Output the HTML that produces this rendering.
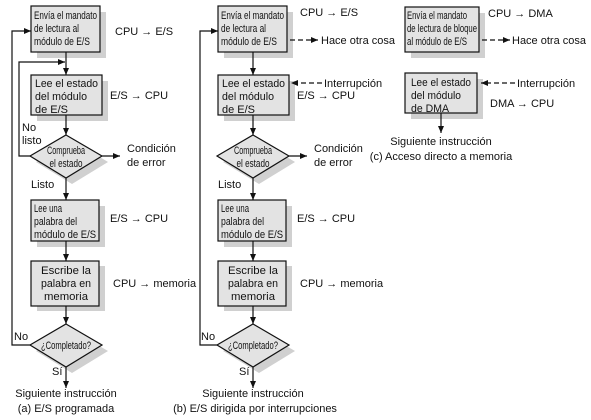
<!DOCTYPE html>
<html><head><meta charset="utf-8"><style>
html,body{margin:0;padding:0;background:#fff;}
svg{display:block;font-family:"Liberation Sans",sans-serif;}
text{fill:#111;}
.s{font-size:11px;}
.m{font-size:11px;}
</style></head><body>
<svg width="591" height="420" viewBox="0 0 591 420" xmlns="http://www.w3.org/2000/svg">
<defs>
<marker id="ar" markerWidth="8" markerHeight="8" refX="7" refY="4" orient="auto" markerUnits="userSpaceOnUse"><path d="M0,1 L7,4 L0,7 z" fill="#111"/></marker>
<g id="common">
  <rect x="37" y="12" width="69" height="46" fill="#d0d0d0"/>
  <rect x="31" y="6" width="69" height="46" fill="#e3e3e3" stroke="#111" stroke-width="1.2"/>
  <text class="s" x="34" y="19" textLength="63" lengthAdjust="spacingAndGlyphs">Envía el mandato</text>
  <text class="s" x="34" y="32" textLength="45" lengthAdjust="spacingAndGlyphs">de lectura al</text>
  <text class="s" x="34" y="45" textLength="56" lengthAdjust="spacingAndGlyphs">módulo de E/S</text>
  <line x1="66" y1="52" x2="66" y2="75" stroke="#111" stroke-width="1.2" marker-end="url(#ar)"/>
  <rect x="37" y="81" width="71" height="40" fill="#d0d0d0"/>
  <rect x="31" y="75" width="71" height="40" fill="#e3e3e3" stroke="#111" stroke-width="1.2"/>
  <text class="m" x="35" y="87" textLength="63" lengthAdjust="spacingAndGlyphs">Lee el estado</text>
  <text class="m" x="35" y="100" textLength="52" lengthAdjust="spacingAndGlyphs">del módulo</text>
  <text class="m" x="35" y="113" textLength="33" lengthAdjust="spacingAndGlyphs">de E/S</text>
  <text class="m" x="110" y="99">E/S → CPU</text>
  <line x1="66" y1="115" x2="66" y2="135" stroke="#111" stroke-width="1.2" marker-end="url(#ar)"/>
  <polygon points="72,140 108,162 72,184 36,162" fill="#d0d0d0"/>
  <polygon points="66,135 102,156 66,178 30,156" fill="#e3e3e3" stroke="#111" stroke-width="1.2"/>
  <text class="s" x="66" y="154" text-anchor="middle" textLength="38" lengthAdjust="spacingAndGlyphs">Comprueba</text>
  <text class="s" x="66" y="167" text-anchor="middle" textLength="33" lengthAdjust="spacingAndGlyphs">el estado</text>
  <line x1="102" y1="156" x2="120" y2="156" stroke="#111" stroke-width="1.2" marker-end="url(#ar)"/>
  <text class="m" x="127" y="152">Condición</text>
  <text class="m" x="127" y="166">de error</text>
  <text class="m" x="31" y="188">Listo</text>
  <line x1="66" y1="178" x2="66" y2="200" stroke="#111" stroke-width="1.2" marker-end="url(#ar)"/>
  <rect x="37" y="206" width="68" height="41" fill="#d0d0d0"/>
  <rect x="31" y="200" width="68" height="41" fill="#e3e3e3" stroke="#111" stroke-width="1.2"/>
  <text class="s" x="34" y="212" textLength="28" lengthAdjust="spacingAndGlyphs">Lee una</text>
  <text class="s" x="34" y="225" textLength="43" lengthAdjust="spacingAndGlyphs">palabra del</text>
  <text class="s" x="34" y="238" textLength="62" lengthAdjust="spacingAndGlyphs">módulo de E/S</text>
  <text class="m" x="110" y="222">E/S → CPU</text>
  <line x1="66" y1="241" x2="66" y2="261" stroke="#111" stroke-width="1.2" marker-end="url(#ar)"/>
  <rect x="37" y="266" width="68" height="45" fill="#d0d0d0"/>
  <rect x="31" y="261" width="68" height="45" fill="#e3e3e3" stroke="#111" stroke-width="1.2"/>
  <text class="m" x="66" y="274" text-anchor="middle" textLength="50" lengthAdjust="spacingAndGlyphs">Escribe la</text>
  <text class="m" x="66" y="287" text-anchor="middle" textLength="50" lengthAdjust="spacingAndGlyphs">palabra en</text>
  <text class="m" x="66" y="300" text-anchor="middle" textLength="44" lengthAdjust="spacingAndGlyphs">memoria</text>
  <text class="m" x="113" y="287">CPU → memoria</text>
  <line x1="66" y1="306" x2="66" y2="324" stroke="#111" stroke-width="1.2" marker-end="url(#ar)"/>
  <polygon points="72,330 108,351 72,373 36,351" fill="#d0d0d0"/>
  <polygon points="66,324 102,345 66,367 30,345" fill="#e3e3e3" stroke="#111" stroke-width="1.2"/>
  <text class="s" x="66" y="349" text-anchor="middle" textLength="50" lengthAdjust="spacingAndGlyphs">¿Completado?</text>
  <text class="m" x="14" y="340">No</text>
  <text class="m" x="52" y="375">Sí</text>
  <line x1="66" y1="367" x2="66" y2="388" stroke="#111" stroke-width="1.2" marker-end="url(#ar)"/>
  <text class="m" x="66" y="397" text-anchor="middle">Siguiente instrucción</text>
</g>
</defs>

<use href="#common"/>
<polyline points="30,345 12,345 12,31 31,31" fill="none" stroke="#111" stroke-width="1.2" marker-end="url(#ar)"/>
<polyline points="30,156 19,156 19,62 65,62" fill="none" stroke="#111" stroke-width="1.2" marker-end="url(#ar)"/>
<text class="m" x="22" y="131">No</text>
<text class="m" x="22" y="144">listo</text>
<text class="m" x="115" y="35">CPU → E/S</text>
<text class="m" x="66" y="412" text-anchor="middle">(a) E/S programada</text>

<g transform="translate(187,0)">
<use href="#common"/>
<polyline points="30,345 13,345 13,31 31,31" fill="none" stroke="#111" stroke-width="1.2" marker-end="url(#ar)"/>
<line x1="103" y1="40" x2="131" y2="40" stroke="#111" stroke-width="1.2" stroke-dasharray="5,3" marker-end="url(#ar)"/>
<text class="m" x="134" y="44">Hace otra cosa</text>
<line x1="135" y1="83" x2="104" y2="83" stroke="#111" stroke-width="1.2" stroke-dasharray="5,3" marker-end="url(#ar)"/>
<text class="m" x="137" y="87">Interrupción</text>
<text class="m" x="113" y="16">CPU → E/S</text>
<text class="m" x="68" y="412" text-anchor="middle">(b) E/S dirigida por interrupciones</text>
</g>

<rect x="411" y="13" width="74" height="45" fill="#d0d0d0"/>
<rect x="405" y="7" width="74" height="45" fill="#e3e3e3" stroke="#111" stroke-width="1.2"/>
<text class="s" x="407" y="19" textLength="60" lengthAdjust="spacingAndGlyphs">Envía el mandato</text>
<text class="s" x="407" y="32" textLength="70" lengthAdjust="spacingAndGlyphs">de lectura de bloque</text>
<text class="s" x="407" y="45" textLength="60" lengthAdjust="spacingAndGlyphs">al módulo de E/S</text>
<text class="m" x="488" y="17">CPU → DMA</text>
<line x1="482" y1="40" x2="510" y2="40" stroke="#111" stroke-width="1.2" stroke-dasharray="5,3" marker-end="url(#ar)"/>
<text class="m" x="512" y="44">Hace otra cosa</text>
<rect x="411" y="79" width="72" height="40" fill="#d0d0d0"/>
<rect x="405" y="73" width="72" height="40" fill="#e3e3e3" stroke="#111" stroke-width="1.2"/>
<text class="m" x="411" y="86" textLength="60" lengthAdjust="spacingAndGlyphs">Lee el estado</text>
<text class="m" x="411" y="99" textLength="50" lengthAdjust="spacingAndGlyphs">del módulo</text>
<text class="m" x="411" y="112" textLength="38" lengthAdjust="spacingAndGlyphs">de DMA</text>
<line x1="515" y1="83" x2="481" y2="83" stroke="#111" stroke-width="1.2" stroke-dasharray="5,3" marker-end="url(#ar)"/>
<text class="m" x="517" y="87">Interrupción</text>
<text class="m" x="490" y="107">DMA → CPU</text>
<line x1="441" y1="113" x2="441" y2="133" stroke="#111" stroke-width="1.2" marker-end="url(#ar)"/>
<text class="m" x="441" y="145" text-anchor="middle">Siguiente instrucción</text>
<text class="m" x="441" y="160" text-anchor="middle">(c) Acceso directo a memoria</text>
</svg>
</body></html>
